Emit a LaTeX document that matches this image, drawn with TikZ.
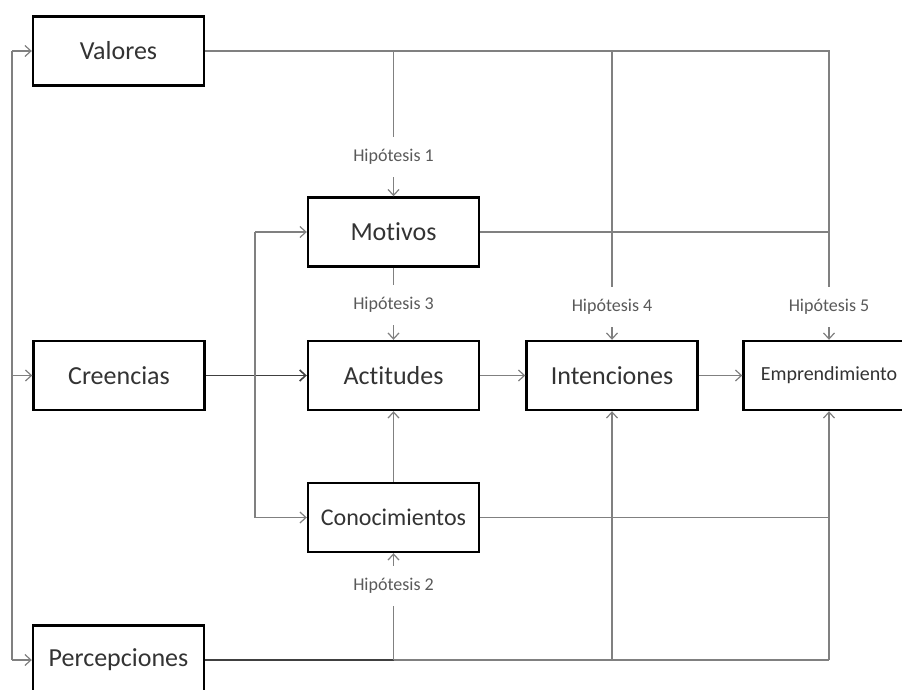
\documentclass[tikz,border=0pt]{standalone}
\usepackage{fontspec}
\setmainfont{Carlito}[Ligatures=NoCommon]
\usepackage{tikz}
\usetikzlibrary{arrows.meta, calc}

\begin{document}
\begin{tikzpicture}[
		x=1pt, y=-1pt,
		box/.style={draw=black, line width=2.4pt, minimum width=171pt, minimum height=69pt, inner sep=0pt, text=black!80, font=\fontsize{26}{30}\selectfont},
		hyp/.style={minimum height=40pt, inner sep=0pt, text=black!65, font=\fontsize{18}{20}\selectfont},
		conn/.style={draw=black!50, line width=1.2pt},
		mainconn/.style={draw=black!75, line width=1.6pt},
		arr/.style={-{Straight Barb[length=6pt,width=11pt]}}
		]
	
	\useasboundingbox (0, 0) rectangle (902, 690);
	
	% Left column
	\node[box] (valores) at (118.5, 51) {Valores};
	\node[box] (creencias) at (119, 375.5) {Creencias};
	\node[box] (percepciones) at (118.5, 660) {Percepciones};
	
	% Middle column
	\node[box] (motivos) at (393.5, 232) {Motivos};
	\node[box] (actitudes) at (393.5, 375.5) {Actitudes};
	\node[box, font=\fontsize{24}{28}\selectfont] (conocimientos) at (393.5, 517.5) {Conocimientos};
	
	% Right side
	\node[box] (intenciones) at (612, 375.5) {Intenciones};
	\node[box, font=\fontsize{20}{24}\selectfont] (emprendimiento) at (829, 375.5) {\raisebox{-2pt}{Emprendimiento}};
	
	% Hypotheses
	\node[hyp] (hip1) at (393.5, 157) {Hipótesis 1};
	\node[hyp] (hip3) at (393.5, 305) {Hipótesis 3};
	\node[hyp] (hip4) at (612, 307) {Hipótesis 4};
	\node[hyp] (hip5) at (829, 307) {Hipótesis 5};
	\node[hyp] (hip2) at (393.5, 586) {Hipótesis 2};
	
	% Bracket on the left
	\coordinate (ltop) at (12, 51);
	\coordinate (lbot) at (12, 660);
	\draw[conn] (lbot) -- (ltop);
	\foreach \n in {valores, creencias, percepciones}{
		\draw[conn, arr] (ltop |- \n.west) -- (\n.west);
	}
	
	% Valores line
	\draw[conn] (valores.east) -- (valores.east -| emprendimiento) -- (hip5.north);
	\draw[conn] (valores.east -| motivos) -- (hip1.north);
	\draw[conn] (valores.east -| intenciones) -- (hip4.north);
	\draw[conn] (motivos.east) -- (motivos.east -| emprendimiento);
	
	% Arrows below the labels
	\draw[conn, arr] (hip1.south) -- (motivos.north);
	\draw[conn, arr] (hip3.south) -- (actitudes.north);
	\draw[conn, arr] (hip4.south) -- (intenciones.north);
	\draw[conn, arr] (hip5.south) -- (emprendimiento.north);
	\draw[conn] (motivos.south) -- (hip3.north);
	
	% Creencias branch
	\coordinate (br) at (255, 375.5);
	\draw[mainconn, arr] (creencias.east) -- (actitudes.west);
	\draw[conn] (br |- motivos.west) -- (br |- conocimientos.west);
	\draw[conn, arr] (br |- motivos.west) -- (motivos.west);
	\draw[conn, arr] (br |- conocimientos.west) -- (conocimientos.west);
	
	% Main chain
	\draw[conn, arr] (actitudes.east) -- (intenciones.west);
	\draw[conn, arr] (intenciones.east) -- (emprendimiento.west);
	\draw[conn, arr] (conocimientos.north) -- (actitudes.south);
	\draw[conn] (conocimientos.east) -- (conocimientos.east -| emprendimiento);
	
	% Percepciones line
	\draw[mainconn] (percepciones.east) -- (percepciones.east -| hip2);
	\draw[conn] (percepciones.east -| hip2) -- (percepciones.east -| emprendimiento);
	\draw[conn] (percepciones.east -| hip2) -- (hip2.south);
	\draw[conn, arr] (hip2.north) -- (conocimientos.south);
	\draw[conn, arr] (percepciones.east -| intenciones) -- (intenciones.south);
	\draw[conn, arr] (percepciones.east -| emprendimiento) -- (emprendimiento.south);
	
\end{tikzpicture}
\end{document}
